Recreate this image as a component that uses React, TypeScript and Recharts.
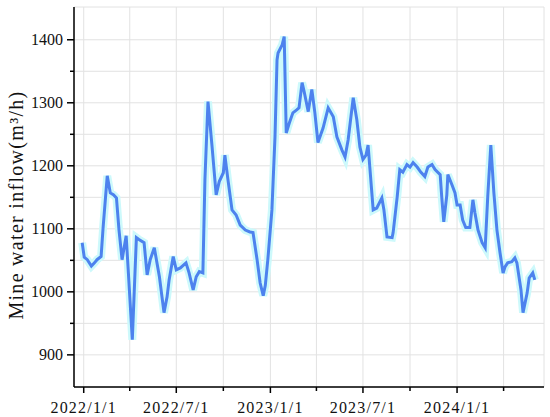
import { LineChart, Line, XAxis, YAxis, CartesianGrid } from "recharts";

const dates = [
  "2021/12/29", "2022/1/2", "2022/1/8", "2022/1/16", "2022/1/22", "2022/1/27",
  "2022/2/4", "2022/2/8", "2022/2/16", "2022/2/22", "2022/2/28", "2022/3/6",
  "2022/3/11", "2022/3/17", "2022/3/25", "2022/3/29", "2022/4/6", "2022/4/14",
  "2022/4/19", "2022/4/29", "2022/5/5", "2022/5/11", "2022/5/19", "2022/5/29",
  "2022/6/7", "2022/6/13", "2022/6/17", "2022/6/25", "2022/7/1", "2022/7/9",
  "2022/7/20", "2022/7/26", "2022/8/3", "2022/8/9", "2022/8/15", "2022/8/22",
  "2022/8/26", "2022/9/1", "2022/9/9", "2022/9/17", "2022/9/23", "2022/10/1",
  "2022/10/4", "2022/10/10", "2022/10/18", "2022/10/26", "2022/11/3", "2022/11/13",
  "2022/11/22", "2022/11/28", "2022/12/6", "2022/12/12", "2022/12/18", "2022/12/22",
  "2022/12/27", "2023/1/4", "2023/1/10", "2023/1/14", "2023/1/16", "2023/1/24",
  "2023/1/28", "2023/2/1", "2023/2/7", "2023/2/14", "2023/2/22", "2023/2/26",
  "2023/3/4", "2023/3/8", "2023/3/16", "2023/3/23", "2023/3/29", "2023/4/4",
  "2023/4/14", "2023/4/24", "2023/5/4", "2023/5/11", "2023/5/21", "2023/5/27",
  "2023/6/2", "2023/6/12", "2023/6/19", "2023/6/25", "2023/7/1", "2023/7/7",
  "2023/7/11", "2023/7/21", "2023/7/28", "2023/8/7", "2023/8/11", "2023/8/17",
  "2023/8/27", "2023/8/29", "2023/9/6", "2023/9/11", "2023/9/17", "2023/9/25",
  "2023/10/1", "2023/10/7", "2023/10/15", "2023/10/22", "2023/10/30", "2023/11/5",
  "2023/11/13", "2023/11/19", "2023/11/29", "2023/12/2", "2023/12/6", "2023/12/12",
  "2023/12/14", "2023/12/22", "2023/12/28", "2024/1/1", "2024/1/7", "2024/1/12",
  "2024/1/18", "2024/1/26", "2024/2/1", "2024/2/5", "2024/2/11", "2024/2/19",
  "2024/2/25", "2024/3/1", "2024/3/7", "2024/3/13", "2024/3/19", "2024/3/25",
  "2024/3/31", "2024/4/4", "2024/4/9", "2024/4/17", "2024/4/23", "2024/4/27",
  "2024/5/5", "2024/5/9", "2024/5/17", "2024/5/21", "2024/5/28", "2024/6/1",
];

const inflow = [
  1078, 1055, 1051, 1041, 1046, 1051,
  1056, 1103, 1184, 1157, 1154, 1149,
  1098, 1051, 1089, 1035, 924, 1086,
  1083, 1078, 1027, 1051, 1070, 1024,
  967, 992, 1019, 1056, 1035, 1038,
  1046, 1030, 1003, 1024, 1032, 1030,
  1178, 1302, 1230, 1154, 1175, 1189,
  1217, 1178, 1130, 1122, 1106, 1098,
  1095, 1094, 1051, 1014, 994, 1010,
  1051, 1130, 1246, 1368, 1379, 1392,
  1405, 1252, 1268, 1284, 1289, 1292,
  1332, 1318, 1286, 1321, 1284, 1237,
  1260, 1292, 1278, 1246, 1225, 1214,
  1241, 1308, 1273, 1230, 1210, 1217,
  1233, 1130, 1133, 1149, 1130, 1087,
  1086, 1094, 1151, 1194, 1190, 1202,
  1198, 1205, 1198, 1190, 1183, 1198,
  1202, 1194, 1186, 1151, 1111, 1154,
  1186, 1170, 1157, 1138, 1138, 1114,
  1102, 1102, 1146, 1125, 1098, 1078,
  1070, 1151, 1233, 1157, 1098, 1062,
  1030, 1040, 1046, 1048, 1054, 1046,
  1003, 967, 998, 1022, 1030, 1019,
];

const majorDates = ["2022/1/1", "2022/7/1", "2023/1/1", "2023/7/1", "2024/1/1"];
const quarterDates = [
  "2022/1/1", "2022/4/1", "2022/7/1", "2022/10/1", "2023/1/1",
  "2023/4/1", "2023/7/1", "2023/10/1", "2024/1/1", "2024/4/1",
];
const yTicks = [900, 950, 1000, 1050, 1100, 1150, 1200, 1250, 1300, 1350, 1400];

const parse = (s: string) => {
  const [y, m, d] = s.split("/").map(Number);
  return Date.UTC(y, m - 1, d);
};
const fmt = (t: number) => {
  const d = new Date(t);
  return `${d.getUTCFullYear()}/${d.getUTCMonth() + 1}/${d.getUTCDate()}`;
};

const data = dates.map((d, i) => ({ t: parse(d), v: inflow[i] }));
const xTicks = quarterDates.map(parse);
const majorSet = new Set(majorDates.map(parse));
const xDomain = [parse("2021/12/13"), parse("2024/6/19")];
const yDomain = [849, 1452];

const font = "'Liberation Serif', 'DejaVu Serif', serif";

const XTick = ({ x, y, payload }: any) => {
  const major = majorSet.has(payload.value);
  return (
    <g>
      <line x1={x} x2={x} y1={y} y2={y + (major ? 6 : 4)} stroke="#000" strokeWidth={1.5} />
      {major && (
        <text x={x} y={y + 26} textAnchor="middle" fontSize={16} fontFamily={font} letterSpacing={1.2} fill="#111">
          {fmt(payload.value)}
        </text>
      )}
    </g>
  );
};

const YTick = ({ x, y, payload }: any) => {
  const major = payload.value % 100 === 0;
  return (
    <g>
      <line x1={x - (major ? 7 : 4)} x2={x} y1={y} y2={y} stroke="#000" strokeWidth={1.5} />
      {major && (
        <text x={x - 11} y={y} dy="0.35em" textAnchor="end" fontSize={16} fontFamily={font} fill="#111">
          {payload.value}
        </text>
      )}
    </g>
  );
};

const YLabel = () => (
  <text
    x={23}
    y={205}
    transform="rotate(-90, 23, 205)"
    textAnchor="middle"
    fontSize={20}
    fontFamily={font}
    letterSpacing={1.3}
    fill="#111"
  >
    Mine water inflow(m³/h)
  </text>
);

export default function App() {
  return (
    <div style={{ position: "absolute", left: 0, top: 0, background: "#fff" }}>
      <LineChart width={550} height={417} data={data} margin={{ top: 7, right: 6, bottom: 0, left: 0 }}>
        <CartesianGrid xAxisId="main" yAxisId="main" stroke="#e2e2e2" strokeWidth={1} />
        <XAxis
          xAxisId="main"
          dataKey="t"
          type="number"
          domain={xDomain}
          ticks={xTicks}
          allowDataOverflow
          height={30}
          tickSize={0}
          tickMargin={0}
          tickLine={false}
          tick={<XTick />}
          interval={0}
          axisLine={{ stroke: "#000", strokeWidth: 1.5 }}
        />
        <XAxis
          xAxisId="top"
          orientation="top"
          type="number"
          domain={xDomain}
          allowDataOverflow
          height={0}
          tick={false}
          tickLine={false}
          axisLine={{ stroke: "#000", strokeWidth: 1.5 }}
        />
        <YAxis
          yAxisId="main"
          type="number"
          domain={yDomain}
          ticks={yTicks}
          allowDataOverflow
          width={74}
          tickSize={0}
          tickMargin={0}
          tickLine={false}
          tick={<YTick />}
          interval={0}
          axisLine={{ stroke: "#000", strokeWidth: 1.5 }}
          label={{ content: () => <YLabel /> }}
        />
        <YAxis
          yAxisId="right"
          orientation="right"
          type="number"
          domain={yDomain}
          allowDataOverflow
          width={0}
          tick={false}
          tickLine={false}
          axisLine={{ stroke: "#000", strokeWidth: 1.5 }}
        />
        <Line
          xAxisId="main"
          yAxisId="main"
          dataKey="v"
          type="linear"
          stroke="#cdf9fb"
          strokeWidth={8}
          dot={false}
          activeDot={false}
          isAnimationActive={false}
        />
        <Line
          xAxisId="main"
          yAxisId="main"
          dataKey="v"
          type="linear"
          stroke="#4d82ee"
          strokeWidth={3}
          dot={false}
          activeDot={false}
          isAnimationActive={false}
        />
      </LineChart>
    </div>
  );
}
